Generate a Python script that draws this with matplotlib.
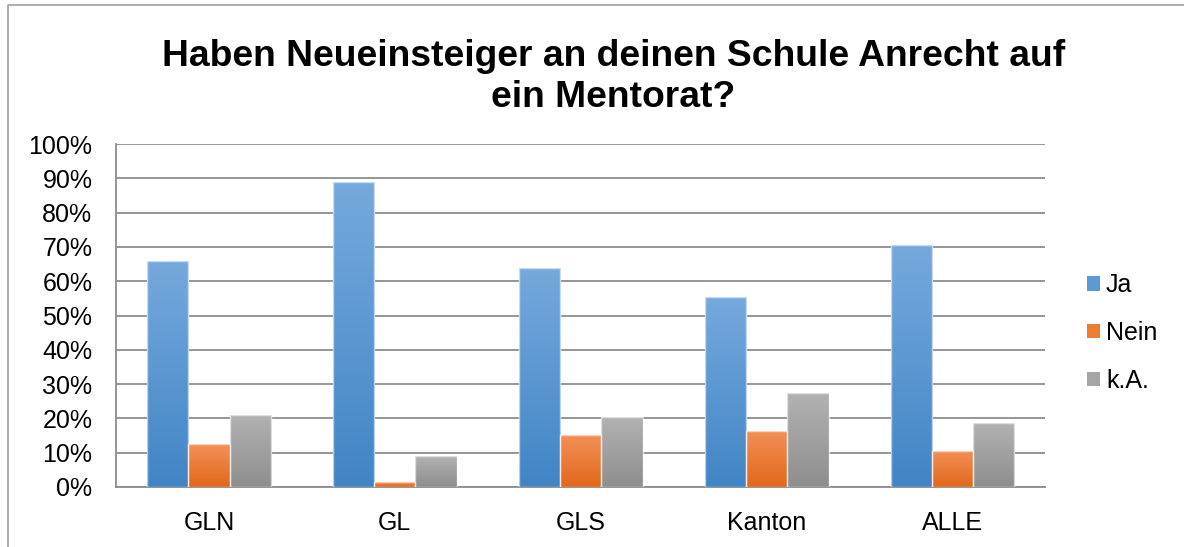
import matplotlib
matplotlib.use("Agg")
import matplotlib.pyplot as plt
import numpy as np
from matplotlib.colors import LinearSegmentedColormap
from matplotlib.patches import Rectangle
from matplotlib.lines import Line2D
from matplotlib.ticker import FuncFormatter

plt.rcParams['font.family'] = ['Liberation Sans', 'DejaVu Sans']

categories = ["GLN", "GL", "GLS", "Kanton", "ALLE"]
series_names = ["Ja", "Nein", "k.A."]
ja = [66.0, 88.8, 63.9, 55.5, 70.6]
nein = [12.4, 1.5, 15.2, 16.4, 10.5]
ka = [21.0, 9.0, 20.3, 27.5, 18.6]
title = "Haben Neueinsteiger an deinen Schule Anrecht auf\nein Mentorat?"

grads = [("#76a9dd", "#4185c5"), ("#f39058", "#e2681a"), ("#b2b2b2", "#8e8e8e")]
solid = ["#5b9bd5", "#ed7d31", "#a5a5a5"]

fig = plt.figure(figsize=(11.84, 5.47), dpi=100)
ax = fig.add_axes([0.098, 0.1097, 0.785, 0.627])

x = np.arange(len(categories))
w = 0.222
data = [ja, nein, ka]
grad = np.linspace(1, 0, 256).reshape(-1, 1)
for i, (vals, (ctop, cbot)) in enumerate(zip(data, grads)):
    bars = ax.bar(x + (i - 1) * w, vals, w, color=solid[i], edgecolor="none",
                  zorder=3, label=series_names[i])
    cmap = LinearSegmentedColormap.from_list("g%d" % i, [cbot, ctop])
    for b in bars:
        bx, by = b.get_x(), b.get_y()
        bw, bh = b.get_width(), b.get_height()
        im = ax.imshow(grad, cmap=cmap, aspect="auto", extent=[bx, bx + bw, by, by + bh],
                       zorder=4, interpolation="bicubic")
        im.set_clip_path(b)
        ax.add_patch(Rectangle((bx, by), bw, bh, fill=False, edgecolor="white",
                               linewidth=1.0, alpha=0.6, zorder=5))

ax.set_xlim(-0.5, len(categories) - 0.5)
ax.set_ylim(0, 100)
ax.set_yticks(np.arange(0, 101, 10))
ax.yaxis.set_major_formatter(FuncFormatter(lambda v, p: "%d%%" % v))
ax.set_xticks(x)
ax.set_xticklabels(categories)
ax.tick_params(axis="both", length=0, labelsize=18, colors="black")
ax.tick_params(axis="x", pad=17)
ax.tick_params(axis="y", pad=17)
ax.grid(axis="y", color="#8c8c8c", linewidth=1.3, zorder=0)
ax.set_axisbelow(True)
for s in ["top", "right"]:
    ax.spines[s].set_visible(False)
for s in ["left", "bottom"]:
    ax.spines[s].set_color("#8c8c8c")
    ax.spines[s].set_linewidth(1.3)

fig.text(0.518, 0.859, title, ha="center", va="center", fontsize=26.8, fontweight="bold",
         linespacing=1.22)

handles, labels = ax.get_legend_handles_labels()
leg = ax.legend(handles, labels, loc="center left", bbox_to_anchor=(1.045, 0.449),
                frameon=False, fontsize=18, handlelength=0.5, handleheight=0.5,
                handletextpad=0.25, labelspacing=0.95, borderaxespad=0, borderpad=0)

fig.add_artist(Line2D([8 / 1184, 8 / 1184, 1.0], [0.0, 1 - 5 / 547, 1 - 5 / 547],
                      transform=fig.transFigure, color="#a0a0a0", linewidth=1.2))

fig.savefig("out.png", dpi=100)
